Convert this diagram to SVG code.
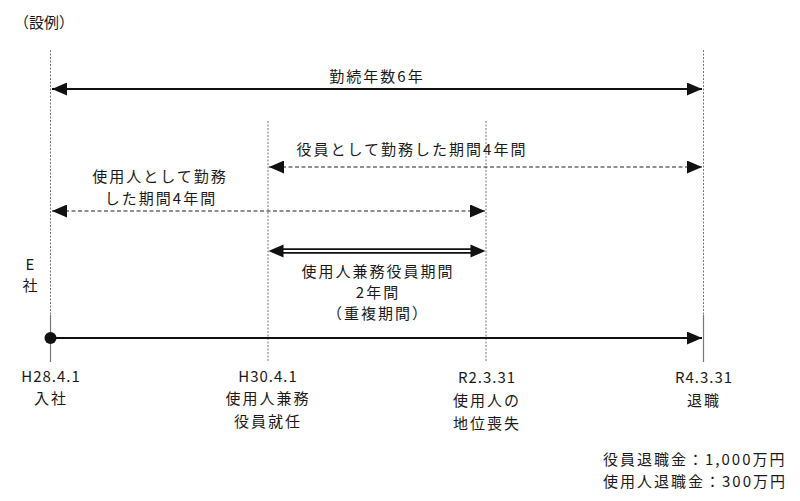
<svg xmlns="http://www.w3.org/2000/svg" width="800" height="501" viewBox="0 0 800 501">
<style>
text{font-family:"Noto Sans CJK JP","Noto Sans",sans-serif;font-size:15px;fill:#1a1a1a;letter-spacing:2px}
.m{text-anchor:middle}
.l{letter-spacing:1px}
.vd{stroke:#777;stroke-width:1;stroke-dasharray:2 1.5;fill:none}
.vs{stroke:#777;stroke-width:1.2;fill:none}
.sol{stroke:#111;stroke-width:2;fill:none}
.dash{stroke:#222;stroke-width:1.2;stroke-dasharray:4 2.5;fill:none}
</style>
<defs>
<marker id="ah" viewBox="0 0 15 13" refX="15" refY="6.5" markerWidth="15" markerHeight="13" markerUnits="userSpaceOnUse" orient="auto-start-reverse">
<path d="M0,0 L15,6.5 L0,13 Z" fill="#111"/>
</marker>
</defs>
<rect width="800" height="501" fill="#fff"/>
<text x="14" y="28" style="letter-spacing:0">（設例）</text>

<g id="guides">
<line class="vd" x1="50.5" y1="50" x2="50.5" y2="315"/>
<line class="vs" x1="50.5" y1="315" x2="50.5" y2="362"/>
<line class="vd" x1="268" y1="121" x2="268" y2="362"/>
<line class="vd" x1="486" y1="121" x2="486" y2="362"/>
<line class="vd" x1="703.5" y1="50" x2="703.5" y2="315"/>
<line class="vs" x1="703.5" y1="315" x2="703.5" y2="362"/>
</g>

<g id="connectors">
<line class="sol" x1="52" y1="89" x2="702" y2="89" marker-start="url(#ah)" marker-end="url(#ah)"/>
<line class="dash" x1="269" y1="167" x2="702" y2="167" marker-start="url(#ah)" marker-end="url(#ah)"/>
<line class="dash" x1="52" y1="211" x2="485" y2="211" marker-start="url(#ah)" marker-end="url(#ah)"/>
<line x1="280" y1="251" x2="474" y2="251" stroke="#111" stroke-width="5.5"/>
<line x1="280" y1="251" x2="474" y2="251" stroke="#fff" stroke-width="1.8"/>
<path d="M268.5,251 L283.5,244.5 L283.5,257.5 Z" fill="#111"/>
<path d="M485.5,251 L470.5,244.5 L470.5,257.5 Z" fill="#111"/>
<line class="sol" x1="50.5" y1="338" x2="702" y2="338" marker-end="url(#ah)"/>
<circle cx="50.5" cy="338" r="6" fill="#111"/>
</g>

<g id="label-total">
<text class="m" x="377" y="82">勤続年数6年</text>
</g>
<g id="label-officer">
<text class="m" x="412" y="155">役員として勤務した期間4年間</text>
</g>
<g id="label-employee">
<text class="m" x="160" y="182">使用人として勤務</text>
<text class="m" x="161" y="204">した期間4年間</text>
</g>
<g id="label-overlap">
<text class="m" x="378" y="277">使用人兼務役員期間</text>
<text class="m" x="378" y="297.5">2年間</text>
<text class="m" x="378" y="319">（重複期間）</text>
</g>
<g id="label-company">
<text class="m" x="31" y="270">E</text>
<text class="m" x="31" y="290.5">社</text>
</g>
<g id="point-h28">
<text class="m l" x="51" y="382">H28.4.1</text>
<text class="m" x="51" y="404">入社</text>
</g>
<g id="point-h30">
<text class="m l" x="268" y="382">H30.4.1</text>
<text class="m" x="268" y="404">使用人兼務</text>
<text class="m" x="268" y="427">役員就任</text>
</g>
<g id="point-r2">
<text class="m l" x="487" y="383">R2.3.31</text>
<text class="m" x="487" y="406">使用人の</text>
<text class="m" x="487" y="429">地位喪失</text>
</g>
<g id="point-r4">
<text class="m l" x="704" y="383">R4.3.31</text>
<text class="m" x="704" y="406">退職</text>
</g>
<g id="note">
<text x="603" y="465">役員退職金：1,000万円</text>
<text x="603" y="487">使用人退職金：300万円</text>
</g>
</svg>
